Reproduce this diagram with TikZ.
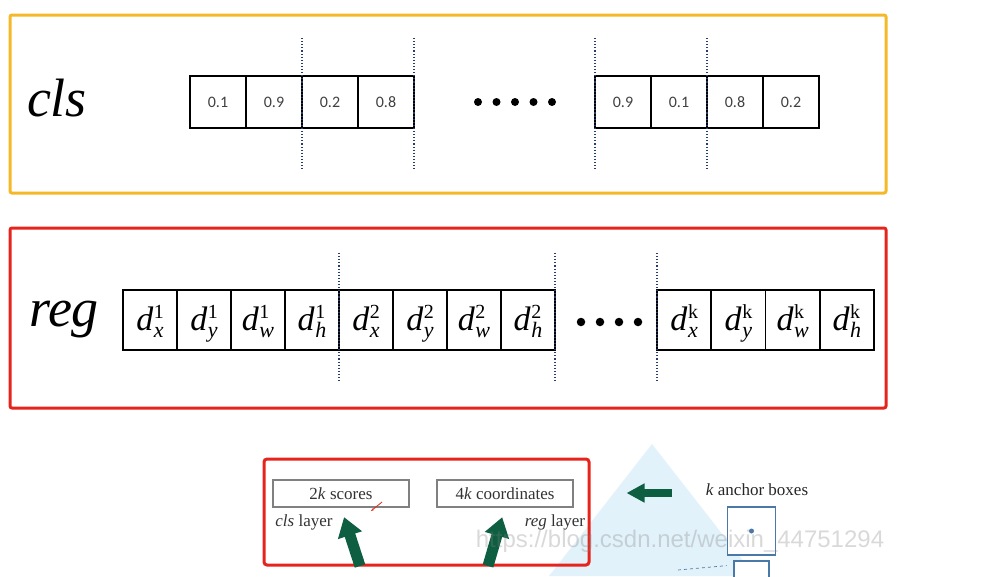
\documentclass[tikz,border=0pt]{standalone}
\usepackage{fontspec}
\setmainfont{Liberation Serif}
\newfontfamily\calib{Carlito}
\newfontfamily\wmfont{Liberation Sans}
\usetikzlibrary{arrows.meta, positioning}
\definecolor{clsyellow}{RGB}{244,184,40}
\definecolor{regred}{RGB}{230,36,28}
\definecolor{arrowgreen}{RGB}{14,94,66}
\definecolor{pyramid}{RGB}{226,242,250}
\definecolor{anchorblue}{RGB}{74,120,168}
\definecolor{sepblue}{RGB}{40,60,110}
% offset symbol d with sub- and superscript
\newcommand{\dcell}[2]{\textit{d}\kern0.5pt\makebox[0pt][l]{\raisebox{11.5pt}{\fontsize{20}{22}\selectfont #2}}%
  \raisebox{-7pt}{\fontsize{22}{24}\selectfont\itshape #1}}

\begin{document}
\begin{tikzpicture}[x=1pt, y=-1pt,
    clscell/.style={draw, line width=1.6pt, minimum width=56pt, minimum height=52pt, inner sep=0pt,
      font=\calib\fontsize{16}{18}\selectfont, text=black!75},
    regcell/.style={draw, line width=1.6pt, minimum width=54pt, minimum height=60pt, inner sep=0pt,
      text height=23pt, text depth=3pt, font=\fontsize{34}{36}\selectfont},
    sepline/.style={sepblue, dotted, line width=1.1pt},
    bigdot/.style={circle, fill, inner sep=0pt, minimum size=8pt},
    layerbox/.style={draw=black!50, line width=1.2pt, minimum width=136pt, minimum height=27pt,
      inner sep=0pt, font=\fontsize{17}{19}\selectfont, text=black!80},
    bigarrow/.style={arrowgreen, line width=11pt, -{Triangle[width=24pt,length=19pt]}}]
            \clip (0,0) rectangle (982,576);

            % Frames
            \draw[clsyellow, line width=3pt, rounded corners=2pt] (10,15) rectangle (886,193);
            \draw[regred, line width=3pt, rounded corners=2pt] (10,228) rectangle (886,408);
            \node[font=\fontsize{54}{60}\selectfont\itshape] (clstitle) at (57,98) {cls};
            \node[font=\fontsize{54}{60}\selectfont\itshape] (regtitle) at (64,320) {reg};

            % cls scores
            \foreach \v [count=\i] in {0.1,0.9,0.2,0.8}
                \node[clscell] (clsa\i) at ({190+56*(\i-0.5)},102) {\v};
            \foreach \v [count=\i] in {0.9,0.1,0.8,0.2}
                \node[clscell] (clsb\i) at ({595+56*(\i-0.5)},102) {\v};
            \foreach \x in {302,414,595,707}
                \draw[sepline] (\x,38) -- (\x,170);
            \foreach \i in {0,...,4}
                \node[bigdot] (clsdot\i) at ({478+18.5*\i},102) {};

            % reg offsets
            \foreach \s/\n [count=\i] in {x/1,y/1,w/1,h/1,x/2,y/2,w/2,h/2}
                \node[regcell] (rega\i) at ({123+54*(\i-0.5)},320) {\dcell{\s}{\n}};
            \foreach \s [count=\i] in {x,y,w,h}
                \node[regcell] (regb\i) at ({657+54.25*(\i-0.5)},320) {\dcell{\s}{k}};
            \foreach \x in {339,555,657}
                \draw[sepline] (\x,253) -- (\x,382);
            \foreach \i in {0,...,3}
                \node[bigdot, minimum size=8.5pt] (regdot\i) at ({581+19*\i},322) {};

            % RPN sketch
            \fill[pyramid] (652,444) -- (549,576) -- (755,576) -- cycle;
            \node[draw=regred, line width=3pt, rounded corners=3pt, minimum width=325pt, minimum height=106pt]
                (rpnout) at (426.5,512) {};
            \node[layerbox] (scores) at (341,493.5) {2\textit{k} scores};
            \node[layerbox] (coords) at (505,493.5) {4\textit{k} coordinates};
            \node[font=\fontsize{17}{19}\selectfont, text=black!80] (clslayer) at (304,522) {\textit{cls} layer};
            \node[font=\fontsize{17}{19}\selectfont, text=black!80] (reglayer) at (555,522) {\textit{reg} layer};
            \coordinate (mka) at (382,502);
            \coordinate (mkb) at (371,511);
            \draw[regred, line width=0.8pt, -{Stealth[length=3pt]}] (mka) -- (mkb);

            \node[font=\fontsize{17}{19}\selectfont, text=black!85] (anch) at (757,490) {\textit{k} anchor boxes};
            \node[draw=anchorblue, line width=1.2pt, fill=white, minimum size=48pt, inner sep=0pt]
                (boxa) at (751.5,531) {};
            \node[circle, fill=anchorblue, inner sep=0pt, minimum size=5pt] (ctr) at (boxa.center) {};
            \node[draw=anchorblue, line width=1.2pt, fill=white, minimum width=35pt, minimum height=30pt]
                (boxb) at (751.5,576) {};
            \coordinate (win) at (678,570);
            \draw[anchorblue, dashed, line width=0.7pt] (win) -- ([yshift=-10pt]boxa.south west);

            % Arrows
            \coordinate (tailcls) at (360,566);
            \coordinate (tailreg) at (488,566);
            \coordinate (tailanch) at (672,493);
            \draw[bigarrow, shorten >=10pt] (tailcls) -- (scores.south);
            \draw[bigarrow, shorten >=10pt] (tailreg) -- (coords.south);
            \draw[bigarrow, line width=8pt, -{Triangle[width=18pt,length=18pt]}, shorten >=36pt]
                (tailanch) -- (tailanch -| rpnout.east);

            % Watermark
            \node[font=\wmfont\fontsize{24}{28}\selectfont, text=gray, opacity=0.3] (wm) at (680,541)
                {https://blog.csdn.net/weixin\_44751294};
\end{tikzpicture}
\end{document}
